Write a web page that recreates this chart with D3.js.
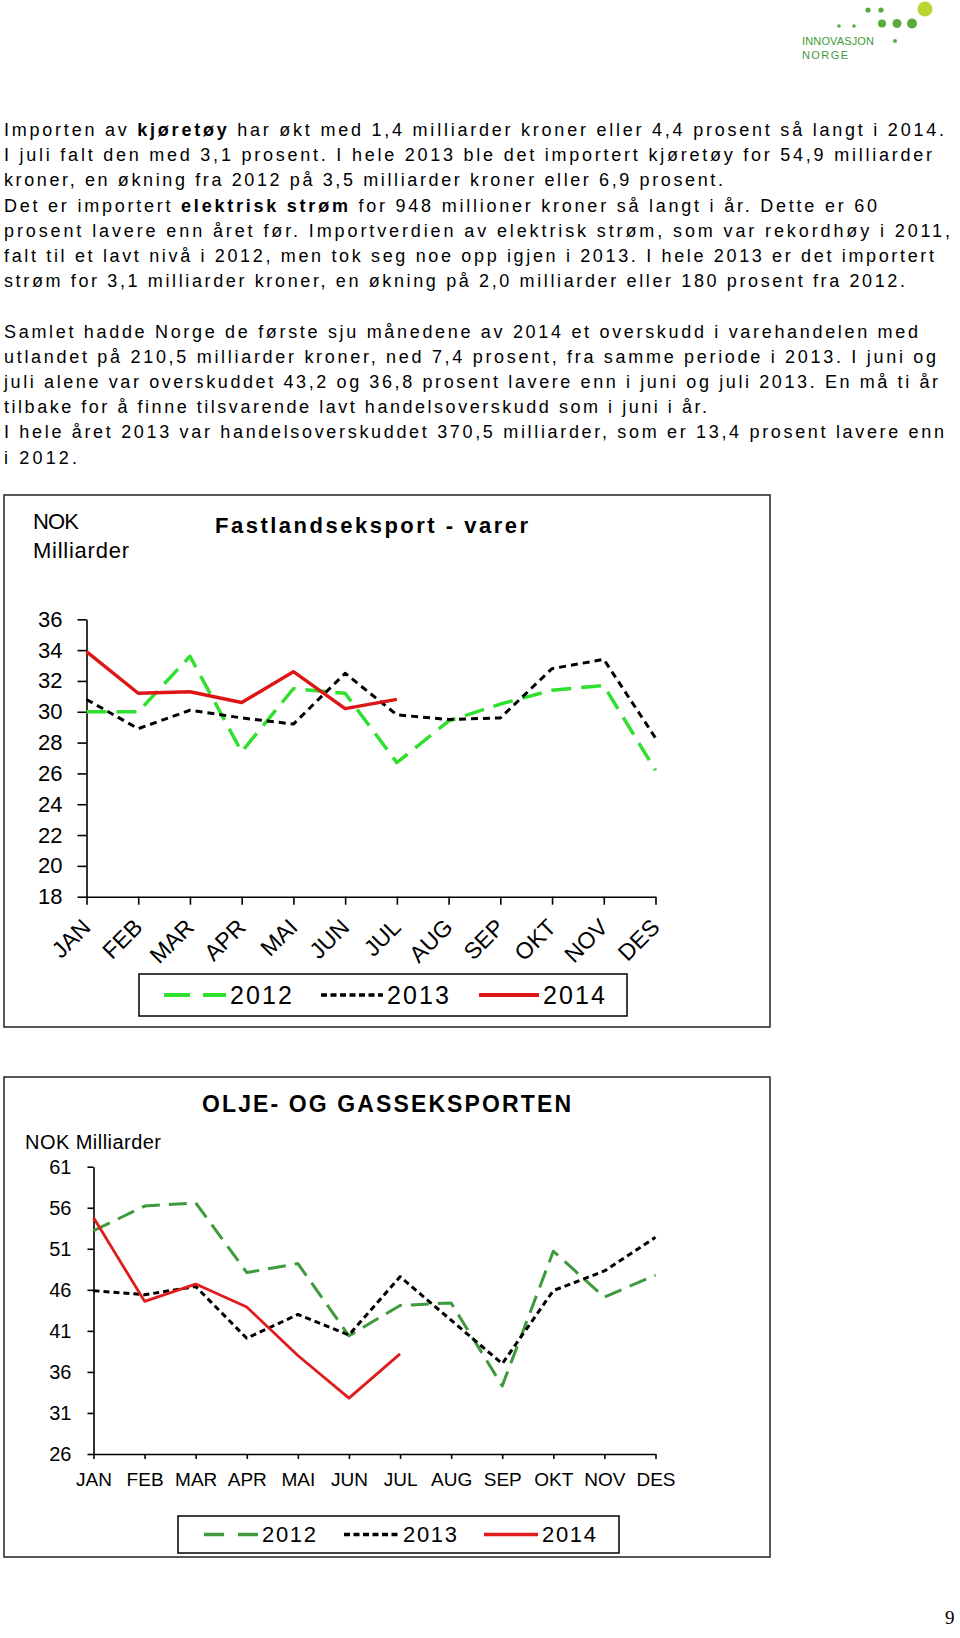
<html>
<head>
<script src="https://d3js.org/d3.v7.min.js"></script>
<style>
  body { margin: 0; background: #fff; }
  text { font-family: "Liberation Sans", Arial, sans-serif; fill: #000; }
</style>
</head>
<body>
<svg id="page" width="960" height="1638"></svg>
<script>

  var months = ["JAN", "FEB", "MAR", "APR", "MAI", "JUN", "JUL", "AUG", "SEP", "OKT", "NOV", "DES"];

  // Fastlandseksport - varer, NOK milliarder
  var fast2012 = [30.0, 30.0, 33.6, 27.4, 31.5, 31.2, 26.7, 29.4, 30.5, 31.4, 31.7, 26.2];
  var fast2013 = [30.8, 28.9, 30.1, 29.6, 29.2, 32.5, 29.8, 29.5, 29.6, 32.8, 33.4, 28.3];
  var fast2014 = [33.9, 31.2, 31.3, 30.6, 32.6, 30.2, 30.8];
  var fastTicks = [18, 20, 22, 24, 26, 28, 30, 32, 34, 36];

  // Olje- og gasseksporten, NOK milliarder
  var olje2012 = [53.2, 56.2, 56.6, 48.1, 49.2, 40.4, 44.1, 44.4, 34.3, 50.7, 45.1, 47.8];
  var olje2013 = [45.9, 45.4, 46.4, 40.1, 43.0, 40.5, 47.6, 42.3, 37.0, 45.9, 48.3, 52.4];
  var olje2014 = [54.8, 44.6, 46.7, 43.9, 38.0, 32.8, 38.2];
  var oljeTicks = [26, 31, 36, 41, 46, 51, 56, 61];

  var years = ["2012", "2013", "2014"];

  // body text, *...* is bold
  var textLines = [
    "Importen av *kjøretøy* har økt med 1,4 milliarder kroner eller 4,4 prosent så langt i 2014.",
    "I juli falt den med 3,1 prosent. I hele 2013 ble det importert kjøretøy for 54,9 milliarder",
    "kroner, en økning fra 2012 på 3,5 milliarder kroner eller 6,9 prosent.",
    "Det er importert *elektrisk strøm* for 948 millioner kroner så langt i år. Dette er 60",
    "prosent lavere enn året før. Importverdien av elektrisk strøm, som var rekordhøy i 2011,",
    "falt til et lavt nivå i 2012, men tok seg noe opp igjen i 2013. I hele 2013 er det importert",
    "strøm for 3,1 milliarder kroner, en økning på 2,0 milliarder eller 180 prosent fra 2012.",
    "",
    "Samlet hadde Norge de første sju månedene av 2014 et overskudd i varehandelen med",
    "utlandet på 210,5 milliarder kroner, ned 7,4 prosent, fra samme periode i 2013. I juni og",
    "juli alene var overskuddet 43,2 og 36,8 prosent lavere enn i juni og juli 2013. En må ti år",
    "tilbake for å finne tilsvarende lavt handelsoverskudd som i juni i år.",
    "I hele året 2013 var handelsoverskuddet 370,5 milliarder, som er 13,4 prosent lavere enn",
    "i 2012."
  ];
  var lineEnds = [944, 932, 723, 877, 950, 934, 905, 0, 918, 936, 938, 707, 944, 77];

  var svg = d3.select("#page");

  // ---- logo ----
  var logo = svg.append("g").attr("transform", "translate(800,0)");
  [[39, 26, 1.8], [54, 26, 1.8], [68, 10, 2.6], [81, 10, 2.6], [82, 23.5, 4], [97, 23.5, 4.5], [112, 23.5, 5]]
    .forEach(function (c) {
      logo.append("circle").attr("cx", c[0]).attr("cy", c[1]).attr("r", c[2]).style("fill", "#5aab3c");
    });
  logo.append("circle").attr("cx", 125).attr("cy", 9).attr("r", 7.5).style("fill", "#b9d531");
  logo.append("circle").attr("cx", 95).attr("cy", 41).attr("r", 2).style("fill", "#5aab3c");
  logo.append("text").attr("x", 2).attr("y", 45).style("font-size", "11px")
    .style("fill", "#3f9a3a").attr("textLength", 72).text("INNOVASJON");
  logo.append("text").attr("x", 2).attr("y", 58.5).style("font-size", "11px")
    .style("fill", "#3f9a3a").attr("textLength", 46).text("NORGE");

  // ---- body text ----
  textLines.forEach(function (line, i) {
    if (!line) return;
    var t = svg.append("text")
      .attr("x", 4)
      .attr("y", 136 + i * 25.2)
      .attr("textLength", lineEnds[i] - 4)
      .attr("lengthAdjust", "spacing")
      .style("font-size", "18px");
    line.split("*").forEach(function (part, j) {
      t.append("tspan").style("font-weight", j % 2 ? "bold" : "normal").text(part);
    });
  });

  // ---- shared drawing ----
  function drawSeries(g, x, y, values, style) {
    var line = d3.line()
      .x(function (d, i) { return x(months[i]); })
      .y(function (d) { return y(d); });
    g.append("path")
      .datum(values)
      .attr("d", line)
      .style("fill", "none")
      .style("stroke", style.color)
      .style("stroke-width", style.width)
      .style("stroke-dasharray", style.dash)
      .style("stroke-linejoin", "round");
  }

  function drawLegend(g, box, items, fontSize, textWidth) {
    g.append("rect")
      .attr("x", box[0]).attr("y", box[1])
      .attr("width", box[2] - box[0]).attr("height", box[3] - box[1])
      .style("fill", "none").style("stroke", "#000").style("stroke-width", 1.5);
    var cy = (box[1] + box[3]) / 2;
    items.forEach(function (it) {
      g.append("line")
        .attr("x1", it.x1).attr("x2", it.x2).attr("y1", cy).attr("y2", cy)
        .style("stroke", it.style.color)
        .style("stroke-width", it.style.width + 0.5)
        .style("stroke-dasharray", it.legendDash || it.style.dash);
      g.append("text")
        .attr("x", it.x2 + 4).attr("y", cy + fontSize * 0.36)
        .attr("textLength", textWidth).attr("lengthAdjust", "spacing")
        .style("font-size", fontSize + "px")
        .text(it.label);
    });
  }

  // ---- chart 1 : Fastlandseksport ----
  var c1 = svg.append("g");
  c1.append("rect").attr("x", 4).attr("y", 495).attr("width", 766).attr("height", 532)
    .style("fill", "none").style("stroke", "#222").style("stroke-width", 1.5);

  c1.append("text").attr("x", 33).attr("y", 529).attr("textLength", 46)
    .style("font-size", "22px").text("NOK");
  c1.append("text").attr("x", 33).attr("y", 558).attr("textLength", 96)
    .style("font-size", "22px").text("Milliarder");
  c1.append("text").attr("x", 215).attr("y", 533)
    .attr("textLength", 313).attr("lengthAdjust", "spacing")
    .style("font-size", "22px").style("font-weight", "bold")
    .text("Fastlandseksport - varer");

  var x1 = d3.scalePoint().domain(months).range([86.5, 655.5]);
  var y1 = d3.scaleLinear().domain([18, 36]).range([896.7, 619.3]);

  var yAxis1 = c1.append("g").attr("transform", "translate(86.5,0)")
    .call(d3.axisLeft(y1).tickValues(fastTicks).tickSize(9).tickSizeOuter(0).tickPadding(15));
  yAxis1.selectAll("text").style("font-size", "22px").style("font-family", "Liberation Sans, Arial, sans-serif");

  var xAxis1 = c1.append("g").attr("transform", "translate(0,896.7)")
    .call(d3.axisBottom(x1).tickSize(8).tickSizeOuter(0));
  xAxis1.selectAll("text")
    .attr("y", 0).attr("dy", null)
    .attr("transform", "translate(5,32) rotate(-45)")
    .style("text-anchor", "end")
    .style("font-size", "23px").style("font-family", "Liberation Sans, Arial, sans-serif");

  [yAxis1, xAxis1].forEach(function (a) {
    a.selectAll("path, line").style("stroke", "#000").style("stroke-width", 1.6);
  });

  var st1 = {
    "2012": { color: "#2fe02f", width: 3.5, dash: "20,10" },
    "2013": { color: "#000", width: 3, dash: "7,5" },
    "2014": { color: "#dd1515", width: 3.4, dash: null }
  };
  drawSeries(c1, x1, y1, fast2012, st1["2012"]);
  drawSeries(c1, x1, y1, fast2013, st1["2013"]);
  drawSeries(c1, x1, y1, fast2014, st1["2014"]);

  drawLegend(c1, [139, 974, 627, 1016], [
    { x1: 164, x2: 226, label: years[0], style: st1["2012"], legendDash: "26,13" },
    { x1: 321, x2: 383, label: years[1], style: st1["2013"], legendDash: "6,3.5" },
    { x1: 479, x2: 539, label: years[2], style: st1["2014"] }
  ], 25, 62);

  // ---- chart 2 : Olje- og gasseksporten ----
  var c2 = svg.append("g");
  c2.append("rect").attr("x", 4).attr("y", 1077).attr("width", 766).attr("height", 480)
    .style("fill", "none").style("stroke", "#222").style("stroke-width", 1.5);

  c2.append("text").attr("x", 202).attr("y", 1112)
    .attr("textLength", 369).attr("lengthAdjust", "spacing")
    .style("font-size", "23px").style("font-weight", "bold")
    .text("OLJE- OG GASSEKSPORTEN");
  c2.append("text").attr("x", 25).attr("y", 1149).attr("textLength", 136)
    .style("font-size", "20px").text("NOK Milliarder");

  var x2 = d3.scalePoint().domain(months).range([93.5, 655.5]);
  var y2 = d3.scaleLinear().domain([26, 61]).range([1454, 1166.7]);

  var yAxis2 = c2.append("g").attr("transform", "translate(93.5,0)")
    .call(d3.axisLeft(y2).tickValues(oljeTicks).tickSize(6).tickSizeOuter(0).tickPadding(16));
  yAxis2.selectAll("text").style("font-size", "20px").style("font-family", "Liberation Sans, Arial, sans-serif");

  var xAxis2 = c2.append("g").attr("transform", "translate(0,1454)")
    .call(d3.axisBottom(x2).tickSize(5).tickSizeOuter(0).tickPadding(14));
  xAxis2.selectAll("text").style("font-size", "19px").style("font-family", "Liberation Sans, Arial, sans-serif");

  [yAxis2, xAxis2].forEach(function (a) {
    a.selectAll("path, line").style("stroke", "#000").style("stroke-width", 1.6);
  });

  var st2 = {
    "2012": { color: "#3d9a3d", width: 3, dash: "18,9" },
    "2013": { color: "#000", width: 3, dash: "6,4" },
    "2014": { color: "#e01b1b", width: 2.8, dash: null }
  };
  drawSeries(c2, x2, y2, olje2012, st2["2012"]);
  drawSeries(c2, x2, y2, olje2013, st2["2013"]);
  drawSeries(c2, x2, y2, olje2014, st2["2014"]);

  drawLegend(c2, [178, 1516, 619, 1553], [
    { x1: 204, x2: 258, label: years[0], style: st2["2012"], legendDash: "20,14" },
    { x1: 344, x2: 399, label: years[1], style: st2["2013"], legendDash: "6,3.5" },
    { x1: 484, x2: 538, label: years[2], style: st2["2014"] }
  ], 22, 54);

  // page number
  svg.append("text").attr("x", 945).attr("y", 1624)
    .style("font-family", "Liberation Serif, serif").style("font-size", "19px").text("9");

</script>
</body>
</html>
